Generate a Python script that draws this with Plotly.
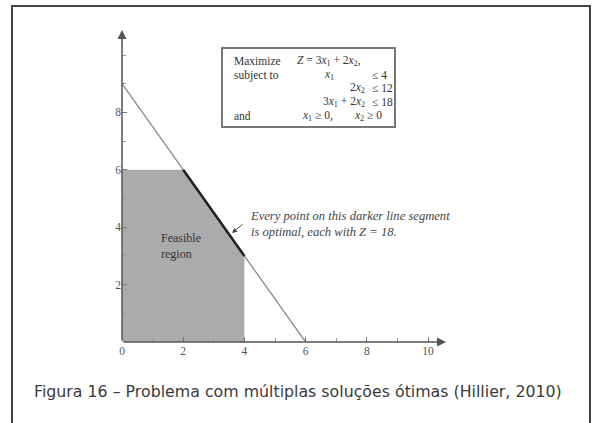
import plotly.graph_objects as go

# ---- data ----
x_tick_vals = [0, 2, 4, 6, 8, 10]
y_tick_vals = [2, 4, 6, 8]
minor_x_vals = list(range(0, 11))
minor_y_vals = list(range(0, 11))

feasible_x = [0, 4, 4, 2, 0, 0]
feasible_y = [0, 0, 3, 6, 6, 0]

constraint_x = [-0.2, 6]          # 3x1 + 2x2 = 18
constraint_y = [9.3, 0]

optimal_x = [2, 4]                # darker segment
optimal_y = [6, 3]

caption = "Figura 16 – Problema com múltiplas soluções ótimas (Hillier, 2010)"
note_lines = ["Every point on this darker line segment", "is optimal, each with <i>Z</i> = 18."]
region_label = "Feasible<br>region"

# ---- geometry helpers (pixel layout) ----
W, H = 598, 423
L, R, T, B = 122, 136, 26, 81
PX_X = 30.6   # pixels per x unit
PX_Y = 28.7   # pixels per y unit
pw, ph = W - L - R, H - T - B
xr = [0, pw / PX_X]
yr = [0, ph / PX_Y]

def dx(px):
    return (px - L) / PX_X

def dy(py):
    return (H - B - py) / PX_Y

def px_paper(px):
    return (px - L) / pw

def py_paper(py):
    return (H - B - py) / ph

fig = go.Figure()

fig.add_trace(go.Scatter(
    x=feasible_x, y=feasible_y, fill="toself", mode="lines",
    fillcolor="#ababab", line=dict(width=0, color="#ababab"),
    hoverinfo="skip", showlegend=False))

fig.add_trace(go.Scatter(
    x=constraint_x, y=constraint_y, mode="lines",
    line=dict(color="#8a8a8a", width=1.3), showlegend=False, hoverinfo="skip"))

fig.add_trace(go.Scatter(
    x=optimal_x, y=optimal_y, mode="lines",
    line=dict(color="#222222", width=2.6), showlegend=False, hoverinfo="skip"))

serif = "Liberation Serif, DejaVu Serif, serif"
ann = []

# axes arrows
ann.append(dict(x=dx(446), y=0, ax=0, ay=0, xref="x", yref="y", axref="x", ayref="y",
                text="", showarrow=True, arrowhead=2, arrowsize=1.2, arrowwidth=1.5,
                arrowcolor="#555555"))
ann.append(dict(x=0, y=dy(30), ax=0, ay=0, xref="x", yref="y", axref="x", ayref="y",
                text="", showarrow=True, arrowhead=2, arrowsize=1.2, arrowwidth=1.5,
                arrowcolor="#555555"))

# axis titles
ann.append(dict(x=dx(458), y=dy(356), xref="x", yref="y", text="<i>x</i><sub>1</sub>",
                showarrow=False, font=dict(family=serif, size=12, color="#555")))
ann.append(dict(x=dx(110), y=dy(32), xref="x", yref="y", text="<i>x</i><sub>2</sub>",
                showarrow=False, font=dict(family=serif, size=12, color="#555")))

# feasible region label
ann.append(dict(x=dx(159), y=dy(246), xref="x", yref="y", text=region_label, xanchor="left",
                showarrow=False, align="left", font=dict(family=serif, size=12, color="#333")))

# note text and arrow
ann.append(dict(x=dx(248), y=dy(224), xref="x", yref="y",
                text="<i>" + "<br>".join(note_lines) + "</i>", xanchor="left",
                showarrow=False, align="left",
                font=dict(family=serif, size=12.6, color="#444")))
ann.append(dict(x=dx(232), y=dy(233), xref="x", yref="y", ax=12, ay=-10,
                text="", showarrow=True, arrowhead=2, arrowsize=1, arrowwidth=1,
                arrowcolor="#444"))

# LP box text: (pixel x, pixel y, anchor, text)
lp_font = dict(family=serif, size=11.5, color="#333")
lp_items = [
    (232, 61, "left", "Maximize"),
    (295, 61, "left", "<i>Z</i> = 3<i>x</i><sub>1</sub> + 2<i>x</i><sub>2</sub>,"),
    (232, 75, "left", "subject to"),
    (322, 75, "left", "<i>x</i><sub>1</sub>"),
    (370, 75, "left", "≤ 4"),
    (367, 88, "right", "2<i>x</i><sub>2</sub>"),
    (370, 88, "left", "≤ 12"),
    (367, 102, "right", "3<i>x</i><sub>1</sub> + 2<i>x</i><sub>2</sub>"),
    (370, 102, "left", "≤ 18"),
    (232, 116, "left", "and"),
    (300, 116, "left", "<i>x</i><sub>1</sub> ≥ 0,"),
    (352, 116, "left", "<i>x</i><sub>2</sub> ≥ 0"),
]
for px, py, anchor, t in lp_items:
    ann.append(dict(x=dx(px), y=dy(py), xref="x", yref="y", text=t, xanchor=anchor,
                    showarrow=False, font=lp_font))

# caption
ann.append(dict(x=px_paper(32), y=py_paper(391), xref="paper", yref="paper", text=caption,
                xanchor="left", yanchor="middle", showarrow=False,
                font=dict(family="DejaVu Sans, Liberation Sans, sans-serif", size=15.8, color="#3a3a3a")))

shapes = [
    # outer frame
    dict(type="rect", xref="paper", yref="paper",
         x0=px_paper(12), x1=px_paper(590), y0=py_paper(430), y1=py_paper(6),
         line=dict(color="#444", width=2), layer="above"),
    # LP box
    dict(type="rect", xref="x", yref="y",
         x0=dx(222), x1=dx(395), y0=dy(127), y1=dy(48),
         line=dict(color="#777", width=2), fillcolor="rgba(255,255,255,0)"),
]

fig.update_layout(
    width=W, height=H, margin=dict(l=L, r=R, t=T, b=B),
    paper_bgcolor="white", plot_bgcolor="white",
    annotations=ann, shapes=shapes,
    xaxis=dict(range=xr, tickvals=x_tick_vals, ticks="inside", ticklen=5, tickcolor="#777",
               showgrid=False, zeroline=False, showline=False, fixedrange=True,
               tickfont=dict(family=serif, size=11.5, color="#555"),
               minor=dict(tickvals=minor_x_vals, ticks="inside", ticklen=4, tickcolor="#999")),
    yaxis=dict(range=yr, tickvals=y_tick_vals, ticks="inside", ticklen=5, tickcolor="#777",
               showgrid=False, zeroline=False, showline=False, fixedrange=True,
               ticksuffix="\u00a0\u00a0",
               tickfont=dict(family=serif, size=11.5, color="#555"),
               minor=dict(tickvals=minor_y_vals, ticks="inside", ticklen=4, tickcolor="#999")),
    showlegend=False,
)

fig.write_html("out.html", config={"displayModeBar": False},
               post_script="document.body.style.margin='0';document.body.style.overflow='hidden';")
